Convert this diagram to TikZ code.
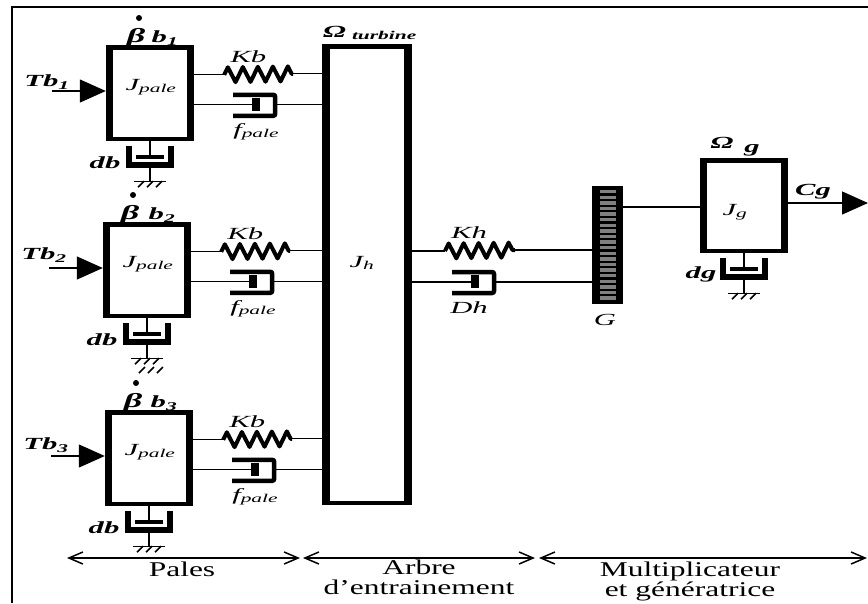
\documentclass[tikz,border=0pt]{standalone}
\usepackage{fontspec}
\setmainfont[FakeStretch=1.5]{Liberation Serif}
\newfontfamily\labfont[FakeStretch=1.8]{Liberation Serif}
\usepackage{xcolor}
\usepackage{tikz}
\usetikzlibrary{arrows.meta,positioning,calc,decorations.pathmorphing}

\tikzset{
    boite/.style={rectangle, fill=black, inner sep=0pt, minimum width=88pt, minimum height=96pt},
    fond/.style={rectangle, fill=white, inner sep=0pt, minimum width=74pt, minimum height=87pt},
    link/.style={line width=1.3pt},
    ressort/.style={line width=4pt, line join=round, decorate, decoration={zigzag, amplitude=7.5pt, segment length=15pt}},
    force/.style={line width=1.3pt, -{Triangle[length=26pt,width=23pt]}},
    zone/.style={line width=1.5pt, {Straight Barb[length=14pt,width=12pt]}-{Straight Barb[length=14pt,width=12pt]}},
    lab/.style={inner sep=0pt, font=\labfont\fontsize{17}{17}\selectfont\itshape},
    labb/.style={inner sep=0pt, font=\labfont\fontsize{17}{17}\selectfont\bfseries\itshape},
    txt/.style={inner sep=0pt, font=\fontsize{21}{20}\selectfont, align=center},
    point/.style={circle, fill=black, inner sep=0pt, minimum size=6pt},
    amorh/.pic={
        \draw[line width=4.5pt, rounded corners=2pt] (-23,-10) -- (19,-10) -- (19,11) -- (-23,11);
        \fill (-4,-7) rectangle (4,6);
        \coordinate (-in) at (0,0);
        \coordinate (-out) at (19,0);
    },
    amorv/.pic={
        \draw[line width=5.5pt] (-21,5) -- (-21,24) -- (21,24) -- (21,5);
        \fill (-14,14) rectangle (14,18);
        \coordinate (-in) at (0,16);
        \coordinate (-out) at (0,24);
        \coordinate (-sol) at (0,40);
    },
    masse/.pic={
        \draw[line width=1.3pt] (-16,0) -- (16,0);
    },
    hachures/.pic={
        \draw[line width=1.6pt] (-12,6) -- (-6,0) (-3,6) -- (3,0) (6,6) -- (12,0);
    },
}

\begin{document}
\begin{tikzpicture}[x=1pt, y=-1pt]
    \useasboundingbox (0,0) rectangle (868,603);
    \coordinate (cadre0) at (12,603);
    \coordinate (cadre1) at (12,7);
    \coordinate (cadre2) at (868,7);
    \draw[line width=2.4pt] (cadre0) -- (cadre1) -- (cadre2);

    \node[boite, minimum width=90pt, minimum height=461pt] (shaft) at (367,274.5) {};
    \node[fond, minimum width=74pt, minimum height=452pt] at (shaft) {};
    \node[lab] (jh) at (362,263) {J\textsubscript{h}};
    \node[labb, anchor=west] (omegat) at (323,33) {Ω\textsubscript{\kern 6pt turbine}};

    \foreach \i/\cx/\cy/\tx/\ty/\bx in {1/150/93/47/82/139, 2/147/270/44/255/133, 3/149/458/46/445/136} {
        \node[boite] (pale\i) at (\cx,\cy) {};
        \node[fond] at (pale\i) {};
        \node[lab] (jpale\i) at ($(pale\i)+(1,-6)$) {J\textsubscript{pale}};
        \node[point] (dot\i) at (\bx,\cy-75) {};
        \node[labb, font=\labfont\fontsize{20}{20}\selectfont\bfseries\itshape] (beta\i) at ($(dot\i)+(-3,20)$) {β};
        \node[labb] (b\i) at ($(pale\i)+(15,-55)$) {b\textsubscript{\i}};
        \node[labb] (tb\i) at (\tx,\ty) {Tb\textsubscript{\i}};
        \coordinate (tbin\i) at ($(pale\i.west)+(-54,-2)$);
        \draw[force] (tbin\i) -- (tbin\i -| pale\i.west);
        \coordinate (ka\i) at ($(pale\i.north east)+(30,30)$);
        \coordinate (kb\i) at ($(ka\i)+(69,-1)$);
        \draw[link] (pale\i.east |- ka\i) -- (ka\i);
        \draw[ressort] (ka\i) -- (kb\i);
        \draw[link] (kb\i) -- (shaft.west |- kb\i);
        \node[lab] (kbl\i) at ($(ka\i)+(24,-18)$) {Kb};
        \pic (f\i) at ($(pale\i.north east)+(62,60)$) {amorh};
        \draw[link] (pale\i.east |- f\i-in) -- (f\i-in);
        \draw[link] (f\i-out) -- (shaft.west |- f\i-out);
        \node[lab] (fp\i) at ($(f\i-in)+(0,27)$) {f\textsubscript{pale}};
        \pic (a\i) at (pale\i.south) {amorv};
        \draw[link] (pale\i.south) -- (a\i-in);
        \draw[link] (a\i-out) -- (a\i-sol);
        \pic at (a\i-sol) {masse};
        \pic at (a\i-sol) {hachures};
        \node[labb] (db\i) at ($(a\i-in)+(-45,5)$) {db};
    }
    \coordinate (hach) at (151,367);
    \pic at (hach) {hachures};

    \coordinate (kha) at (445,251);
    \coordinate (khb) at (515,250);
    \node[rectangle, fill=black, inner sep=0pt, minimum width=31pt, minimum height=118pt] (gear) at (607.5,245) {};
    \foreach \n in {0,...,19} {
        \fill[gray] (600,190+\n*5.6) rectangle (616,193.4+\n*5.6);
    }
    \draw[link] (shaft.east |- kha) -- (kha);
    \draw[ressort] (kha) -- (khb);
    \draw[link] (khb) -- (gear.west |- khb);
    \node[lab] (kh) at (469,233) {Kh};
    \pic (fh) at (475,282) {amorh};
    \draw[link] (shaft.east |- fh-in) -- (fh-in);
    \draw[link] (fh-out) -- (gear.west |- fh-out);
    \node[lab] (dh) at (469,308) {Dh};
    \node[lab] (gl) at (605,320) {G};

    \node[boite, minimum height=95pt] (gene) at (744,205.5) {};
    \node[fond, minimum height=86pt] at (gene) {};
    \node[lab] (jg) at (735,212) {J\textsubscript{g}};
    \draw[link] (gear.east |- 0,207) -- (gene.west |- 0,207);
    \node[labb] (omegag) at (722,143) {Ω};
    \node[labb] (gg) at (752,150) {g};
    \node[labb] (cg) at (813,192) {Cg};
    \coordinate (cgout) at (868,203);
    \draw[force] (gene.east |- cgout) -- (cgout);
    \pic (ag) at (gene.south) {amorv};
    \draw[link] (gene.south) -- (ag-in);
    \draw[link] (ag-out) -- (ag-sol);
    \pic at (ag-sol) {masse};
    \pic at (ag-sol) {hachures};
    \node[labb] (dg) at (701,274) {dg};

    \coordinate (z0) at (67,558);
    \coordinate (z1) at (300,558);
    \coordinate (z2) at (303,558);
    \coordinate (z3) at (535,558);
    \coordinate (z4) at (539,558);
    \coordinate (z5) at (867,558);
    \draw[zone] (z0) -- (z1);
    \draw[zone] (z2) -- (z3);
    \draw[zone] (z4) -- (z5);
    \node[txt] (pales) at (182,569) {Pales};
    \node[txt, below=2pt of z2, xshift=116pt] (arbre) {Arbre\\d'entrainement};
    \node[txt, below=4pt of z4, xshift=151pt] (multi) {Multiplicateur\\et génératrice};
\end{tikzpicture}
\end{document}
